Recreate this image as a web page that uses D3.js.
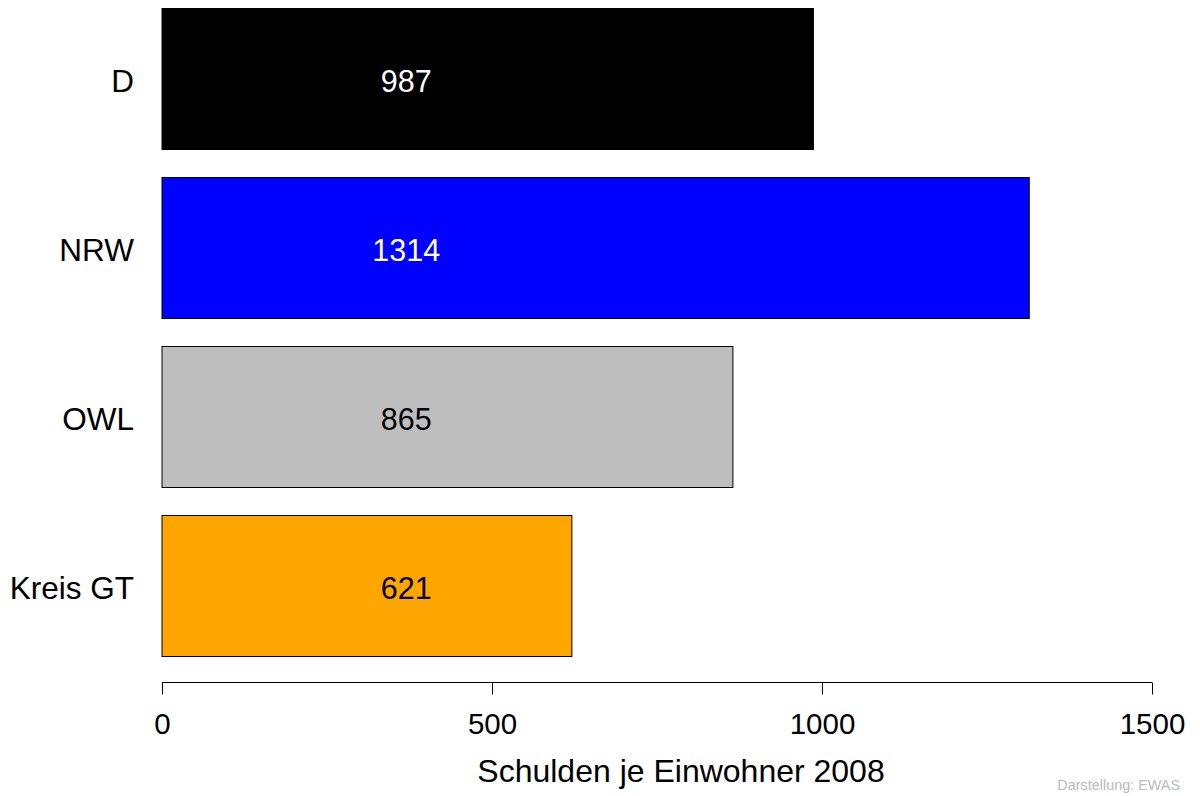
<!DOCTYPE html>
<html><head><meta charset="utf-8">
<script src="https://cdn.jsdelivr.net/npm/d3@7"></script>
<style>body{margin:0;background:#fff}svg{display:block}text{font-family:"Liberation Sans",Arial,sans-serif}</style>
</head><body>
<script>
const categories = ["D", "NRW", "OWL", "Kreis GT"];
const values = [987, 1314, 865, 621];
const colors = ["#000000", "#0000ff", "#bebebe", "#ffa500"];
const labelColors = ["#ffffff", "#ffffff", "#000000", "#000000"];
const xTicks = [0, 500, 1000, 1500];
const xTitle = "Schulden je Einwohner 2008";
const credit = "Darstellung: EWAS";

const W = 1200, H = 796;
const svg = d3.select("body").append("svg").attr("width", W).attr("height", H);
const x = d3.scaleLinear().domain([0, 1500]).range([162, 1152]);
const y = d3.scaleBand().domain(categories).range([8.5, 656.5]).paddingInner(0.1657).paddingOuter(0);

svg.selectAll("rect.bar").data(categories).enter().append("rect")
  .attr("x", x(0)).attr("y", d => y(d))
  .attr("width", (d, i) => x(values[i]) - x(0))
  .attr("height", y.bandwidth())
  .attr("fill", (d, i) => colors[i])
  .attr("stroke", "#000").attr("stroke-width", 1);

svg.selectAll("text.val").data(categories).enter().append("text")
  .attr("x", x(370)).attr("y", d => y(d) + y.bandwidth() / 2 + 13)
  .attr("text-anchor", "middle").attr("font-size", 30.5)
  .attr("fill", (d, i) => labelColors[i])
  .text((d, i) => values[i]);

svg.selectAll("text.cat").data(categories).enter().append("text")
  .attr("x", 134).attr("y", d => y(d) + y.bandwidth() / 2 + 13)
  .attr("text-anchor", "end").attr("font-size", 31.5).attr("fill", "#000")
  .text(d => d);

const ax = svg.append("g").attr("transform", "translate(0,682.5)")
  .call(d3.axisBottom(x).tickValues(xTicks).tickFormat(d3.format("d")).tickSize(12).tickPadding(19).tickSizeOuter(0));
ax.select(".domain").attr("stroke", "#000").attr("d", `M${x(0)},0H${x(1500)}`);
ax.selectAll(".tick line").attr("stroke", "#000");
ax.selectAll(".tick text").attr("font-size", 29.5).attr("fill", "#000")
  .attr("font-family", '"Liberation Sans",Arial,sans-serif');

svg.append("text").attr("x", 681).attr("y", 782).attr("text-anchor", "middle")
  .attr("font-size", 32).attr("fill", "#000").text(xTitle);
svg.append("text").attr("x", 1180).attr("y", 790).attr("text-anchor", "end")
  .attr("font-size", 14.4).attr("fill", "#bbbbbb").text(credit);
</script>
</body></html>
